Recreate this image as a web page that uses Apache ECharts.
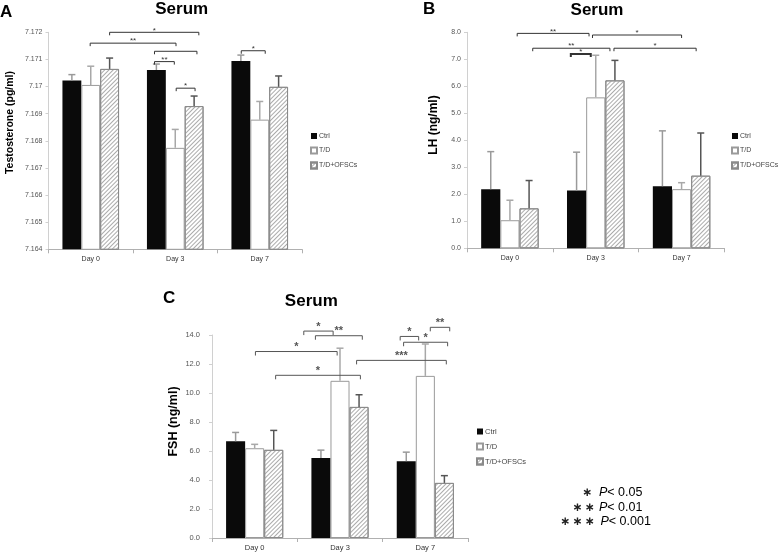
<!DOCTYPE html>
<html><head><meta charset="utf-8">
<script src="https://cdn.jsdelivr.net/npm/echarts@6/dist/echarts.min.js"></script>
<style>html,body{margin:0;padding:0;background:#fff}#c{width:778px;height:552px}</style>
</head><body><div id="c"></div>
<script>
// ---------- data ----------
const categories = ['Day 0', 'Day 3', 'Day 7'];
const groupNames = ['Ctrl', 'T/D', 'T/D+OFSCs'];

// Panel A: Testosterone (pg/ml)
const testoCtrl = [7.17022, 7.17061, 7.17094];
const testoCtrlErr = [0.00022, 0.00022, 0.00022];
const testoTD = [7.17006, 7.16774, 7.16878];
const testoTDErr = [0.00069, 0.00068, 0.00067];
const testoOF = [7.17065, 7.16928, 7.16999];
const testoOFErr = [0.00040, 0.00037, 0.00040];
const testoTicks = [7.164, 7.172, 0.001];

// Panel B: LH (ng/ml)
const lhCtrl = [2.19, 2.14, 2.30];
const lhCtrlErr = [1.39, 1.42, 2.05];
const lhTD = [1.04, 5.59, 2.19];
const lhTDErr = [0.74, 1.56, 0.24];
const lhOF = [1.48, 6.22, 2.69];
const lhOFErr = [1.03, 0.74, 1.58];
const lhTicks = [0, 8, 1];

// Panel C: FSH (ng/ml)
const fshCtrl = [6.67, 5.51, 5.30];
const fshCtrlErr = [0.61, 0.55, 0.62];
const fshTD = [6.19, 10.84, 11.18];
const fshTDErr = [0.27, 2.25, 2.20];
const fshOF = [6.08, 9.04, 3.80];
const fshOFErr = [1.34, 0.84, 0.50];
const fshTicks = [0, 14, 2];

// significance brackets: [category1, bar offset1, category2, bar offset2, level, stars, line width]
const testoBrackets = [
  [0, 1.0, 1, 1.25, 7.17200, '*', 1],
  [0, -0.03, 1, 0.04, 7.17160, '**', 1],
  [1, -1.1, 1, 1.15, 7.17130, '', 1],
  [1, -1.1, 1, -0.05, 7.17092, '**', 1],
  [1, 0.05, 1, 1.05, 7.16994, '*', 1],
  [2, -0.98, 2, 0.29, 7.17132, '*', 1]
];
const lhBrackets = [
  [0, 0.38, 1, -0.35, 7.96, '**', 1],
  [1, -0.17, 2, 0.0, 7.90, '*', 1],
  [0, 1.19, 1, 0.74, 7.41, '**', 1],
  [1, 0.95, 2, 0.76, 7.41, '*', 1],
  [1, -1.3, 1, -0.26, 7.20, '*', 2]
];
const fshBrackets = [
  [1, -1.9, 1, -0.36, 14.27, '*', 1],
  [1, -1.29, 1, 1.17, 13.95, '**', 1],
  [0, 0.04, 1, -0.15, 12.86, '*', 1],
  [0, 1.1, 1, 1.07, 11.22, '*', 1],
  [2, -1.32, 2, -0.35, 13.90, '*', 1],
  [2, 0.26, 2, 1.28, 14.53, '**', 1],
  [2, -1.14, 2, 1.17, 13.50, '*', 1],
  [1, 0.87, 2, 1.1, 12.25, '***', 1]
];

const pLegendStars = [1, 2, 3];
const pLegendText = ['< 0.05', '< 0.01', '< 0.001'];

// ---------- styles ----------
const GAP = 0.33;
const barStyles = [
  {color: '#0a0a0a', borderColor: '#0a0a0a', borderWidth: 0},
  {color: '#ffffff', borderColor: '#9a9a9a', borderWidth: 1},
  {color: '#ffffff', borderColor: '#8a8a8a', borderWidth: 1,
   decal: {symbol: 'rect', symbolSize: 1, color: '#ababab', dashArrayX: [1, 0], dashArrayY: [1, 1.4], rotation: -Math.PI / 4}}
];
const errColors = ['#9a9a9a', '#a8a8a8', '#555555'];

const panels = [
  {vals: [testoCtrl, testoTD, testoOF], errs: [testoCtrlErr, testoTDErr, testoOFErr], ticks: testoTicks,
   brackets: testoBrackets, grid: {left: 48.5, top: 32.3, width: 253.5, height: 217},
   fmt: v => String(+v.toFixed(3)), labelSize: 7, labelMargin: 6, starSize: 8, bColor: '#333', tick: 3,
   legend: {left: 305, top: 127.5}},
  {vals: [lhCtrl, lhTD, lhOF], errs: [lhCtrlErr, lhTDErr, lhOFErr], ticks: lhTicks,
   brackets: lhBrackets, grid: {left: 467, top: 32.3, width: 257.5, height: 216},
   fmt: v => v.toFixed(1), labelSize: 7, labelMargin: 6, starSize: 8, bColor: '#333', tick: 3,
   legend: {left: 726, top: 127.5}},
  {vals: [fshCtrl, fshTD, fshOF], errs: [fshCtrlErr, fshTDErr, fshOFErr], ticks: fshTicks,
   brackets: fshBrackets, grid: {left: 212, top: 335, width: 256, height: 205},
   fmt: v => v.toFixed(1), labelSize: 7.5, labelMargin: 12, starSize: 11, bColor: '#555', tick: 4,
   legend: {left: 471, top: 422.5}}
];

const grids = [], xAxes = [], yAxes = [], series = [], legends = [];
panels.forEach((p, pi) => {
  grids.push(p.grid);
  xAxes.push({type: 'category', gridIndex: pi, data: categories,
    axisLine: {lineStyle: {color: '#b0b0b0', width: 1}},
    axisTick: {show: true, length: 4, lineStyle: {color: '#b0b0b0'}},
    axisLabel: {color: '#333', fontSize: pi === 2 ? 7.5 : 7, margin: 6, fontFamily: 'Liberation Sans'}});
  yAxes.push({type: 'value', gridIndex: pi, min: p.ticks[0], max: p.ticks[1], interval: p.ticks[2],
    splitLine: {show: false},
    axisLine: {show: true, lineStyle: {color: '#d0d0d0'}},
    axisTick: {show: true, length: 3, lineStyle: {color: '#d0d0d0'}},
    axisLabel: {color: '#555', fontSize: p.labelSize, margin: p.labelMargin, formatter: p.fmt, fontFamily: 'Liberation Sans'}});
  groupNames.forEach((n, si) => {
    series.push({type: 'bar', name: n, xAxisIndex: pi, yAxisIndex: pi, data: p.vals[si],
      barGap: 0, barCategoryGap: (GAP * 100) + '%', itemStyle: barStyles[si], emphasis: {disabled: true}, z: 2});
  });
  // error bars
  const errData = [];
  categories.forEach((c, ci) => {
    groupNames.forEach((n, si) => {
      errData.push([ci, si - 1, p.vals[si][ci], p.vals[si][ci] + p.errs[si][ci]]);
    });
  });
  series.push({type: 'custom', xAxisIndex: pi, yAxisIndex: pi, data: errData, z: 3,
    encode: {x: 0, y: 3}, silent: true,
    renderItem: function (params, api) {
      const bw = api.size([1, 0])[0] * (1 - GAP) / 3;
      const off = api.value(1);
      const x = api.coord([api.value(0), 0])[0] + off * bw;
      const y0 = api.coord([api.value(0), api.value(2)])[1];
      const y1 = api.coord([api.value(0), api.value(3)])[1];
      const col = errColors[off + 1];
      return {type: 'group', children: [
        {type: 'line', shape: {x1: x, y1: y0, x2: x, y2: y1}, style: {stroke: col, lineWidth: 1.5}},
        {type: 'line', shape: {x1: x - 3.5, y1: y1, x2: x + 3.5, y2: y1}, style: {stroke: col, lineWidth: 1.5}}
      ]};
    }});
  // brackets
  const br = p.brackets;
  series.push({type: 'custom', xAxisIndex: pi, yAxisIndex: pi, clip: false, z: 4, silent: true,
    data: br.map(b => [b[0], b[1], b[2], b[3], b[4]]), encode: {x: 0, y: 4},
    renderItem: function (params, api) {
      const b = br[params.dataIndex];
      const bw = api.size([1, 0])[0] * (1 - GAP) / 3;
      const x1 = api.coord([b[0], b[4]])[0] + b[1] * bw;
      const x2 = api.coord([b[2], b[4]])[0] + b[3] * bw;
      const y = api.coord([b[0], b[4]])[1];
      const t = p.tick;
      const children = [{type: 'polyline', shape: {points: [[x1, y + t], [x1, y], [x2, y], [x2, y + t]]},
        style: {stroke: p.bColor, lineWidth: b[6], fill: null}}];
      if (b[5]) children.push({type: 'text', x: (x1 + x2) / 2, y: y + (pi === 2 ? 1 : 2),
        style: {text: b[5], fill: p.bColor, font: (pi === 2 ? 'bold ' : '') + p.starSize + 'px Liberation Sans',
          textAlign: 'center', textVerticalAlign: 'bottom'}});
      return {type: 'group', children: children};
    }});
  legends.push({orient: 'vertical', left: p.legend.left, top: p.legend.top, itemWidth: 6, itemHeight: 6,
    itemGap: 7, data: groupNames, icon: 'rect', selectedMode: false,
    textStyle: {fontSize: pi === 2 ? 7.5 : 7, color: '#444', padding: [0, 0, 0, -3], fontFamily: 'Liberation Sans'}});
});

// p-value key
const pGraphics = [];
pLegendStars.forEach((n, i) => {
  const y = 493 + i * 14.5;
  for (let k = 0; k < n; k++) {
    const cx = (n === 1 ? 587 : 589.5) - (n - 1 - k) * 12.2;
    pGraphics.push({type: 'text', x: cx, y: y, style: {text: '∗', font: 'bold 12px DejaVu Sans', fill: '#222', textAlign: 'center', textVerticalAlign: 'middle'}});
  }
  pGraphics.push({type: 'text', x: 599 + (i === 2 ? 1.5 : 0), y: y, style: {
    text: '{i|P}{n|' + pLegendText[i] + '}', textVerticalAlign: 'middle', textAlign: 'left',
    rich: {i: {font: 'italic 12.5px Liberation Sans', fill: '#000'}, n: {font: '12.5px Liberation Sans', fill: '#000'}}}});
});

const titleFont = {fontSize: 17, fontWeight: 'bold', color: '#000', fontFamily: 'Liberation Sans'};
const option = {
  backgroundColor: '#fff',
  animation: false,
  title: [
    {text: 'Serum', left: 181.7, top: 1, textAlign: 'center', textStyle: titleFont, padding: 0},
    {text: 'Serum', left: 597, top: 2, textAlign: 'center', textStyle: titleFont, padding: 0},
    {text: 'Serum', left: 311.3, top: 293, textAlign: 'center', textStyle: titleFont, padding: 0}
  ],
  legend: legends,
  grid: grids,
  xAxis: xAxes,
  yAxis: yAxes,
  series: series,
  graphic: [
    {type: 'text', x: 0, y: 4, style: {text: 'A', font: 'bold 17px Liberation Sans', fill: '#000'}},
    {type: 'text', x: 423, y: 1, style: {text: 'B', font: 'bold 17px Liberation Sans', fill: '#000'}},
    {type: 'text', x: 163, y: 290, style: {text: 'C', font: 'bold 17px Liberation Sans', fill: '#000'}},
    {type: 'text', x: 10, y: 122.5, rotation: Math.PI / 2, style: {text: 'Testosterone (pg/ml)', font: 'bold 10.5px Liberation Sans', fill: '#000', textAlign: 'center', textVerticalAlign: 'middle'}},
    {type: 'text', x: 434, y: 125, rotation: Math.PI / 2, style: {text: 'LH (ng/ml)', font: 'bold 12px Liberation Sans', fill: '#000', textAlign: 'center', textVerticalAlign: 'middle'}},
    {type: 'text', x: 174, y: 421.5, rotation: Math.PI / 2, style: {text: 'FSH (ng/ml)', font: 'bold 12.5px Liberation Sans', fill: '#000', textAlign: 'center', textVerticalAlign: 'middle'}}
  ].concat(pGraphics)
};

const chart = echarts.init(document.getElementById('c'), null, {renderer: 'canvas'});
chart.setOption(option);
</script>
</body></html>
